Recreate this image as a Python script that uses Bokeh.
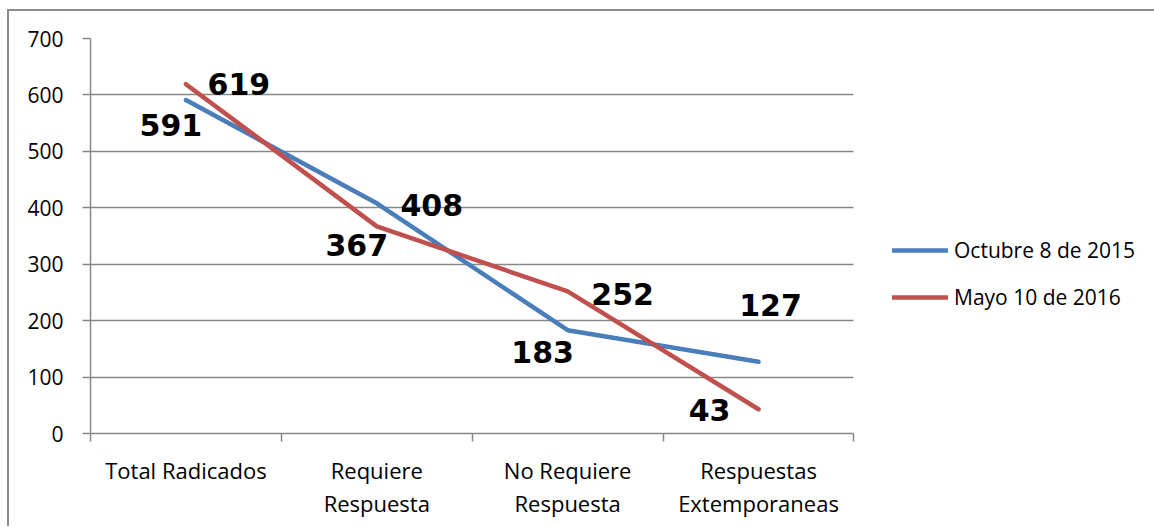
from bokeh.plotting import figure
from bokeh.models import (Range1d, LinearAxis, FixedTicker, Legend, LegendItem,
                          ColumnDataSource)
from bokeh.embed import file_html
from bokeh.resources import INLINE
from bokeh.core.properties import value

# ---- data ----
categories = ["Total Radicados", "Requiere Respuesta", "No Requiere Respuesta", "Respuestas Extemporaneas"]
category_labels = ["Total Radicados", "Requiere\nRespuesta", "No Requiere\nRespuesta", "Respuestas\nExtemporaneas"]
series_names = ["Octubre 8 de 2015", "Mayo 10 de 2016"]
oct_2015 = [591, 408, 183, 127]
may_2016 = [619, 367, 252, 43]
y_ticks = [0, 100, 200, 300, 400, 500, 600, 700]

# ---- styling ----
BLUE = "#4A7EBB"
RED = "#C0504D"
GRID = "#888888"
FONT = "Open Sans"
LABEL_FONT = "DejaVu Sans"

# screen offsets of value labels (px)
oct_dx = [-15, 55, -25, 12]
oct_dy = [25, 2, 22, -57]
may_dx = [53, -20, 55, -49]
may_dy = [0, 19, 3, 1]

n = len(categories)
x_pos = [i + 0.5 for i in range(n)]          # category centres on a 0..n axis
bounds = list(range(n + 1))                   # category boundaries (tick marks)

# layout: plot area is 762px wide for the n categories; the frame is widened
# to the right so the legend (drawn inside the frame) is not clipped
FIG_W, FIG_H = 1147, 517
B_LEFT, B_TOP, B_RIGHT, B_BOTTOM = 81, 27, 5, 95
PLOT_W = 762
frame_w = FIG_W - 2 - B_LEFT - B_RIGHT
x_end = n * frame_w / PLOT_W

p = figure(width=FIG_W, height=FIG_H, output_backend="svg", toolbar_location=None,
           x_range=Range1d(0, x_end), y_range=Range1d(0, 700),
           x_axis_location=None, y_axis_location=None,
           min_border_left=B_LEFT, min_border_top=B_TOP, min_border_right=B_RIGHT,
           min_border_bottom=B_BOTTOM,
           background_fill_color="white", border_fill_color="white")
p.outline_line_color = None
p.styles = {"border-top": "2px solid #8c8c8c", "border-left": "2px solid #8c8c8c",
            "box-sizing": "border-box", "margin-left": "7px", "margin-top": "9px"}

# y axis
yax = LinearAxis(ticker=FixedTicker(ticks=y_ticks))
yax.axis_line_color = GRID
yax.axis_line_width = 1.5
yax.major_tick_line_color = GRID
yax.major_tick_line_width = 1.5
yax.major_tick_out = 8
yax.major_tick_in = 0
yax.minor_tick_line_color = None
yax.major_label_text_font = FONT
yax.major_label_text_font_size = "21px"
yax.major_label_text_color = "black"
yax.major_label_standoff = 19
p.add_layout(yax, "left")

# boundary tick axis (Excel-style ticks between categories)
bax = LinearAxis(ticker=FixedTicker(ticks=bounds), bounds=(0, n))
bax.axis_line_color = GRID
bax.axis_line_width = 1.5
bax.major_tick_line_color = GRID
bax.major_tick_line_width = 1.5
bax.major_tick_out = 8
bax.major_tick_in = 0
bax.minor_tick_line_color = None
bax.major_label_text_font_size = "0px"
bax.major_label_standoff = 0
p.add_layout(bax, "below")

# category label axis
cax = LinearAxis(ticker=FixedTicker(ticks=x_pos), bounds=(0, n))
cax.axis_line_color = None
cax.major_tick_line_color = None
cax.minor_tick_line_color = None
cax.major_label_overrides = {x: lab for x, lab in zip(x_pos, category_labels)}
cax.major_label_text_font = FONT
cax.major_label_text_font_size = "22px"
cax.major_label_text_color = "black"
cax.major_label_text_line_height = 1.1
cax.major_label_standoff = 7
p.add_layout(cax, "below")

# horizontal gridlines only across the category area
p.xgrid.grid_line_color = None
g = p.ygrid[0]
if "cross_bounds" in g.properties():
    g.ticker = FixedTicker(ticks=y_ticks)
    g.cross_bounds = (0, n)
    g.grid_line_color = GRID
    g.grid_line_width = 1.3
else:
    g.grid_line_color = None
    p.segment(x0=[0] * len(y_ticks), x1=[n] * len(y_ticks), y0=y_ticks, y1=y_ticks,
              line_color=GRID, line_width=1.3)

src_o = ColumnDataSource(dict(x=x_pos, y=oct_2015, t=[str(v) for v in oct_2015], dx=oct_dx, dy=oct_dy))
src_m = ColumnDataSource(dict(x=x_pos, y=may_2016, t=[str(v) for v in may_2016], dx=may_dx, dy=may_dy))

r_o = p.line("x", "y", source=src_o, line_color=BLUE, line_width=4.5, line_cap="round", line_join="round")
r_m = p.line("x", "y", source=src_m, line_color=RED, line_width=4.5, line_cap="round", line_join="round")

for src in (src_o, src_m):
    p.text("x", "y", text="t", source=src, x_offset="dx", y_offset="dy",
           text_font=value(LABEL_FONT), text_font_style="bold", text_font_size="30px",
           text_color="black", text_align="center", text_baseline="middle")

legend = Legend(items=[LegendItem(label=series_names[0], renderers=[r_o]),
                       LegendItem(label=series_names[1], renderers=[r_m])],
                location=(802, 122))
legend.border_line_color = None
legend.background_fill_alpha = 0
legend.label_text_font = FONT
legend.label_text_font_size = "21px"
legend.label_text_color = "black"
legend.glyph_width = 56
legend.glyph_height = 20
legend.label_height = 20
legend.label_standoff = 6
legend.spacing = 19
legend.padding = 10
p.add_layout(legend, "center")

open("out.html", "w").write(file_html(p, INLINE))
